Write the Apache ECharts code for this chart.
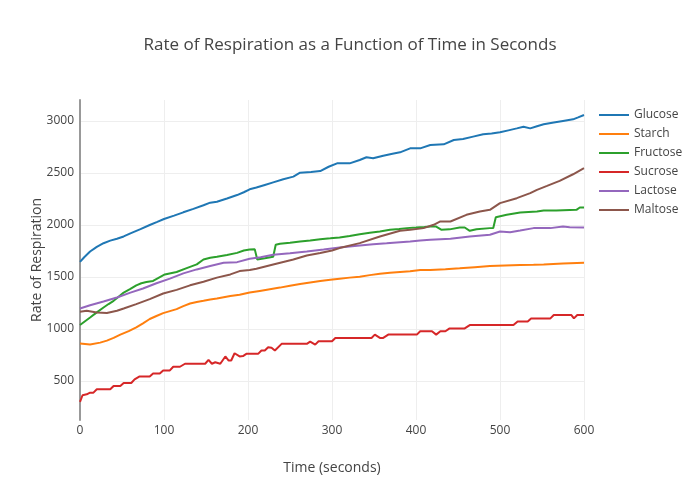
<!DOCTYPE html>
<html>
<head>
<meta charset="utf-8">
<script src="https://cdn.jsdelivr.net/npm/echarts@6/dist/echarts.min.js"></script>
<style>html,body{margin:0;padding:0;background:#fff;}#c{width:700px;height:500px;}</style>
</head>
<body>
<div id="c"></div>
<script>
const titleText = "Rate of Respiration as a Function of Time in Seconds";
const seriesNames = ["Glucose", "Starch", "Fructose", "Sucrose", "Lactose", "Maltose"];
const xTicks = [0, 100, 200, 300, 400, 500, 600];

const glucose = [[0,1645],[5,1690],[12,1745],[20,1790],[28,1825],[36,1850],[44,1868],[52,1890],[60,1920],[72,1960],[83,2000],[92,2030],[100,2058],[112,2090],[123,2122],[135,2155],[147,2190],[155,2215],[163,2224],[175,2255],[187,2288],[195,2315],[202,2343],[210,2360],[220,2385],[230,2410],[242,2440],[254,2465],[262,2503],[275,2510],[286,2519],[296,2560],[306,2593],[321,2593],[333,2625],[341,2651],[349,2641],[361,2666],[372,2685],[381,2699],[393,2737],[405,2737],[417,2769],[433,2776],[445,2817],[456,2827],[468,2850],[480,2872],[490,2880],[500,2891],[510,2910],[520,2929],[528,2945],[536,2929],[544,2950],[552,2968],[564,2985],[575,3000],[587,3016],[593,3035],[600,3058]];

const starch = [[0,860],[6,855],[12,850],[24,869],[32,888],[40,915],[48,946],[58,980],[67,1016],[75,1055],[83,1096],[91,1125],[99,1153],[107,1172],[115,1191],[123,1220],[131,1245],[139,1260],[147,1271],[155,1283],[163,1293],[171,1306],[179,1318],[190,1330],[202,1350],[214,1366],[226,1382],[238,1398],[250,1416],[262,1433],[274,1448],[286,1462],[298,1474],[309,1484],[321,1494],[333,1503],[345,1518],[357,1532],[369,1540],[381,1548],[393,1555],[405,1567],[417,1567],[435,1575],[452,1583],[470,1594],[488,1605],[506,1610],[524,1615],[540,1618],[552,1621],[575,1631],[600,1637]];

const fructose = [[0,1038],[6,1075],[12,1111],[20,1160],[28,1207],[34,1240],[40,1271],[46,1310],[52,1350],[60,1385],[67,1420],[73,1440],[79,1452],[87,1462],[94,1495],[101,1525],[108,1537],[115,1548],[127,1585],[139,1621],[147,1669],[155,1685],[163,1694],[175,1712],[187,1732],[195,1755],[202,1764],[208,1768],[211,1668],[220,1680],[230,1695],[233,1810],[238,1819],[250,1830],[262,1842],[274,1852],[286,1864],[298,1872],[309,1880],[321,1895],[333,1912],[345,1925],[357,1938],[369,1954],[380,1962],[389,1970],[400,1975],[410,1980],[417,1986],[424,1985],[430,1955],[440,1958],[452,1976],[458,1976],[464,1944],[472,1960],[488,1970],[492,1972],[495,2075],[508,2098],[524,2120],[544,2130],[552,2139],[567,2139],[591,2146],[595,2168],[600,2168]];

const sucrose = [[0,299],[3,363],[8,372],[12,388],[16,388],[20,420],[36,420],[40,452],[48,452],[52,481],[61,481],[65,516],[71,544],[83,544],[87,573],[95,573],[99,602],[107,602],[111,637],[119,637],[125,666],[149,666],[153,704],[157,666],[161,680],[167,666],[173,736],[177,697],[180,697],[184,767],[190,736],[194,740],[198,761],[212,761],[216,793],[220,793],[224,825],[228,820],[232,793],[240,857],[270,857],[274,879],[280,850],[284,882],[300,882],[304,914],[347,914],[351,946],[357,914],[361,914],[367,946],[401,946],[405,978],[419,978],[424,946],[429,978],[435,978],[440,1006],[458,1006],[464,1038],[516,1038],[521,1073],[533,1073],[537,1102],[560,1102],[564,1134],[585,1134],[588,1102],[592,1134],[600,1134]];

const lactose = [[0,1197],[12,1229],[28,1264],[44,1303],[60,1350],[75,1389],[91,1440],[107,1484],[123,1535],[139,1573],[155,1605],[171,1637],[187,1643],[202,1675],[215,1690],[230,1714],[250,1728],[270,1746],[290,1765],[309,1784],[330,1800],[349,1816],[365,1825],[381,1835],[393,1842],[405,1851],[417,1858],[441,1867],[464,1890],[488,1906],[500,1938],[512,1931],[524,1947],[540,1970],[560,1970],[575,1986],[583,1979],[600,1976]];

const maltose = [[0,1166],[8,1175],[20,1159],[32,1153],[44,1175],[52,1197],[67,1239],[83,1287],[99,1341],[115,1376],[131,1420],[147,1455],[163,1494],[179,1525],[190,1557],[202,1567],[210,1580],[230,1621],[254,1669],[270,1707],[286,1730],[300,1755],[309,1778],[333,1826],[357,1890],[381,1944],[393,1954],[409,1970],[421,2002],[429,2034],[441,2034],[460,2098],[476,2130],[488,2146],[500,2210],[520,2258],[536,2306],[544,2338],[556,2376],[571,2424],[587,2488],[600,2546]];

const allData = [glucose, starch, fructose, sucrose, lactose, maltose];
const colors = ["#1f77b4", "#ff7f0e", "#2ca02c", "#d62728", "#9467bd", "#8c564b"];
const font = "'Open Sans', 'Noto Sans', sans-serif";

const chart = echarts.init(document.getElementById('c'), null, {renderer: 'canvas'});
chart.setOption({
  animation: false,
  backgroundColor: '#fff',
  color: colors,
  title: {
    text: titleText, left: 'center', top: 32,
    textStyle: {fontFamily: font, fontSize: 17, fontWeight: 'normal', color: '#444'}
  },
  legend: {
    orient: 'vertical', left: 599, top: 108, padding: 0,
    icon: 'rect', itemWidth: 30, itemHeight: 2, itemGap: 5,
    data: seriesNames,
    textStyle: {fontFamily: font, fontSize: 12, color: '#444', lineHeight: 14}
  },
  grid: {left: 80, right: 116, top: 100, bottom: 80, containLabel: false},
  xAxis: {
    type: 'value', min: xTicks[0], max: xTicks[xTicks.length - 1], interval: 100,
    name: 'Time (seconds)', nameLocation: 'middle', nameGap: 41, nameMoveOverlap: false,
    nameTextStyle: {fontFamily: font, fontSize: 14, color: '#444'},
    axisLine: {show: false}, axisTick: {show: false},
    axisLabel: {fontFamily: font, fontSize: 12, color: '#444', margin: 5},
    splitLine: {show: true, lineStyle: {color: '#eee', width: 1}}
  },
  yAxis: {
    type: 'value', min: 125, max: 3202, minInterval: 500, maxInterval: 500,
    name: 'Rate of Respiration', nameLocation: 'middle', nameGap: 36, nameMoveOverlap: false,
    nameTextStyle: {fontFamily: font, fontSize: 14, color: '#444'},
    axisLine: {show: true, lineStyle: {color: '#999', width: 2}},
    axisTick: {show: false},
    axisLabel: {fontFamily: font, fontSize: 12, color: '#444', margin: 6, showMinLabel: false, showMaxLabel: false,
      formatter: v => String(v)},
    splitLine: {show: true, showMinLine: false, showMaxLine: false, lineStyle: {color: '#eee', width: 1}}
  },
  series: seriesNames.map((n, i) => ({
    name: n, type: 'line', data: allData[i], symbol: 'none', showSymbol: false,
    lineStyle: {width: 2, color: colors[i]}, itemStyle: {color: colors[i]}
  }))
});
</script>
</body>
</html>
